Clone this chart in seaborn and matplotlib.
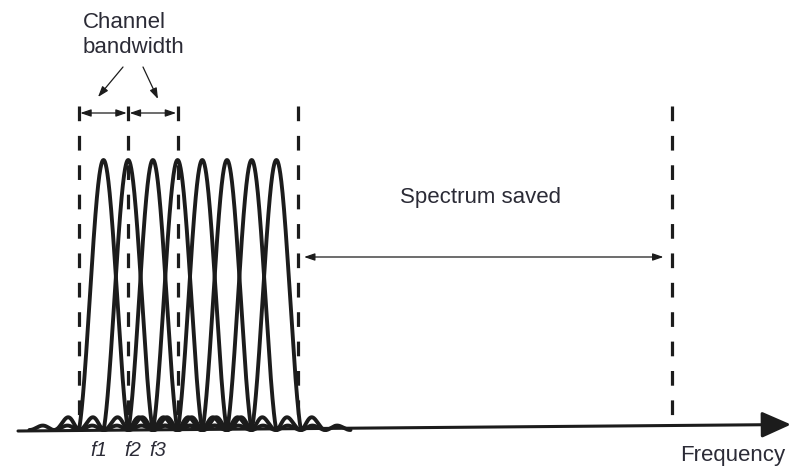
import numpy as np
import pandas as pd
import matplotlib
matplotlib.use("Agg")
import matplotlib.pyplot as plt
import seaborn as sns
from matplotlib.patches import FancyArrowPatch

# ---- data ----
carriers = [1, 2, 3, 4, 5, 6, 7, 8]            # subcarrier centre frequencies (in units of spacing)
carrier_labels = ["f1", "f2", "f3"]            # labelled subcarriers
boundaries = [0.0, 2.0, 4.0, 8.87, 24.02]      # dashed boundary lines
lobe_span = 3                                  # sidelobes drawn on each side

sns.set_style("white")
plt.rcParams["font.family"] = ["Liberation Sans", "DejaVu Sans"]

W, H = 799, 468
fig = plt.figure(figsize=(W / 100, H / 100), dpi=100)
ax = fig.add_axes([0, 0, 1, 1])

# pixel -> data mapping
SP, X0, Y0, YH = 24.7, 103.5, 430.0, 270.0
def P(px, py):
    return (1 + (px - X0) / SP, (Y0 - py) / YH)

ax.set_xlim(P(0, 0)[0], P(W, 0)[0])
ax.set_ylim(P(0, H)[1], P(0, 0)[1])
ax.axis("off")

def spectrum(u):
    s = np.sinc(u)
    main = np.abs(u) < 1
    out = s ** 2
    out[main] = np.abs(s[main]) ** 1.25
    return out

rows = []
for c in carriers:
    f = np.linspace(c - lobe_span, c + lobe_span, 721)
    rows.append(pd.DataFrame({"f": f, "amp": spectrum(f - c), "carrier": c}))
df = pd.concat(rows, ignore_index=True)

sns.lineplot(data=df, x="f", y="amp", units="carrier", estimator=None,
             color="#1c1c1c", lw=2.8, ax=ax, legend=False)

ink = "#1c1c1c"
txt = "#2b2b36"

# baseline (slightly tilted, as in the reference)
bx0, by0, bx1, by1 = 18, 431, 791, 424.5
def base_py(px):
    return by0 + (by1 - by0) * (px - bx0) / (bx1 - bx0)

top = P(0, 106)[1]
for b in boundaries:
    px = X0 + (b - 1) * SP
    ax.plot([b, b], [top, P(0, base_py(px))[1]], color=ink, lw=2.3,
            ls=(0, (4.6, 4.6)), solid_capstyle="butt", dash_capstyle="butt")

ax.add_patch(FancyArrowPatch(P(bx0, by0), P(bx1, by1),
                             arrowstyle="-|>,head_length=0.9,head_width=0.4",
                             mutation_scale=20, lw=2.2, color=ink,
                             shrinkA=0, shrinkB=0))

def dbl(a, b, lw=0.9):
    ax.add_patch(FancyArrowPatch(a, b, arrowstyle="<|-|>,head_length=0.32,head_width=0.11",
                                 mutation_scale=20, lw=lw, color=ink,
                                 shrinkA=0, shrinkB=0))

def single(a, b, lw=0.9):
    ax.add_patch(FancyArrowPatch(a, b, arrowstyle="-|>,head_length=0.32,head_width=0.11",
                                 mutation_scale=20, lw=lw, color=ink,
                                 shrinkA=0, shrinkB=0))

# channel bandwidth arrows
yb = P(0, 113)[1]
dbl((boundaries[0] + 0.06, yb), (boundaries[1] - 0.06, yb))
dbl((boundaries[1] + 0.06, yb), (boundaries[2] - 0.06, yb))
single(P(123, 67), P(98, 97))
single(P(143, 67), P(158, 99))

# spectrum saved arrow
ys = P(0, 257)[1]
dbl((boundaries[3] + 0.25, ys), (boundaries[4] - 0.35, ys))

# text
ax.text(*P(83, 35), "Channel\nbandwidth", fontsize=16, color=txt,
        ha="left", va="center", linespacing=1.2)
ax.text(*P(481, 197), "Spectrum saved", fontsize=16, color=txt,
        ha="center", va="center")
ax.text(*P(733, 456), "Frequency", fontsize=16, color=txt,
        ha="center", va="center")
for lab, xp in zip(carrier_labels, [99, 133, 158]):
    ax.text(*P(xp, 451), lab, fontsize=14.5, color=txt, style="italic",
            ha="center", va="center")

fig.savefig("out.png", dpi=100)
